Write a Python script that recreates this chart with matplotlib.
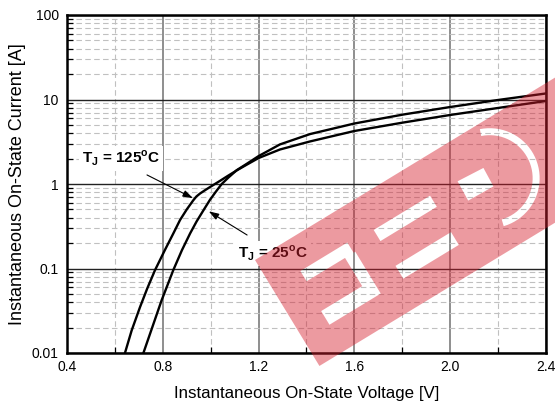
import numpy as np
import matplotlib
matplotlib.use("Agg")
import matplotlib.pyplot as plt
from matplotlib.path import Path
from matplotlib.patches import PathPatch
from matplotlib.transforms import IdentityTransform
from matplotlib.ticker import FixedLocator, FixedFormatter, NullFormatter

plt.rcParams['font.family'] = ['Liberation Sans', 'DejaVu Sans']
plt.rcParams['mathtext.fontset'] = 'custom'
plt.rcParams['mathtext.rm'] = 'Liberation Sans:bold'
plt.rcParams['mathtext.bf'] = 'Liberation Sans:bold'

# ---- data ----
v_125 = [0.642, 0.67, 0.705, 0.735, 0.767, 0.809, 0.844, 0.872, 0.90, 0.927,
         0.94, 0.955, 0.975, 0.997, 1.02, 1.039, 1.07, 1.109, 1.15, 1.2,
         1.289, 1.415, 1.6, 1.804, 2.0, 2.2, 2.4]
i_125 = [0.01, 0.0185, 0.035, 0.058, 0.095, 0.166, 0.26, 0.375, 0.5, 0.64,
         0.71, 0.77, 0.84, 0.92, 1.01, 1.09, 1.24, 1.45, 1.69, 2.03,
         2.56, 3.19, 4.24, 5.34, 6.56, 7.94, 9.6]

v_25 = [0.719, 0.757, 0.795, 0.844, 0.88, 0.914, 0.941, 0.97, 0.997, 1.02,
        1.046, 1.075, 1.109, 1.15, 1.2, 1.289, 1.415, 1.6, 1.804, 2.0,
        2.2, 2.4]
i_25 = [0.01, 0.0205, 0.042, 0.096, 0.165, 0.26, 0.36, 0.49, 0.65, 0.8,
        1.0, 1.2, 1.46, 1.73, 2.14, 2.94, 3.9, 5.2, 6.64, 8.15,
        9.87, 11.79]

x_ticks = [0.4, 0.8, 1.2, 1.6, 2.0, 2.4]
x_tick_labels = ['0.4', '0.8', '1.2', '1.6', '2.0', '2.4']
x_minor = [0.6, 1.0, 1.4, 1.8, 2.2]
y_ticks = [0.01, 0.1, 1, 10, 100]
y_tick_labels = ['0.01', '0.1', '1', '10', '100']
y_minor = [m * d for d in [0.01, 0.1, 1, 10] for m in range(2, 10)]

label_125 = r'T$_{\mathregular{J}}$ = 125$^{\mathregular{o}}$C'
label_25 = r'T$_{\mathregular{J}}$ = 25$^{\mathregular{o}}$C'

W, H = 555, 408
fig = plt.figure(figsize=(W / 100, H / 100), dpi=100)
ax = fig.add_axes([67 / W, 1 - 353 / H, (546 - 67) / W, (353 - 15) / H])
ax.set_yscale('log')
ax.set_xlim(0.4, 2.4)
ax.set_ylim(0.01, 100)

ax.xaxis.set_major_locator(FixedLocator(x_ticks))
ax.xaxis.set_major_formatter(FixedFormatter(x_tick_labels))
ax.xaxis.set_minor_locator(FixedLocator(x_minor))
ax.xaxis.set_minor_formatter(NullFormatter())
ax.yaxis.set_major_locator(FixedLocator(y_ticks))
ax.yaxis.set_major_formatter(FixedFormatter(y_tick_labels))
ax.yaxis.set_minor_locator(FixedLocator(y_minor))
ax.yaxis.set_minor_formatter(NullFormatter())

ax.grid(which='major', axis='x', color='#707070', lw=1.1, ls='-')
ax.grid(which='major', axis='y', color='#222222', lw=1.0, ls='-')
ax.grid(which='minor', color='#c0c0c0', lw=0.8, ls=(0, (5, 3)))
ax.set_axisbelow(True)

ax.tick_params(which='major', direction='in', length=0, labelsize=10, pad=5)
ax.tick_params(axis='y', which='major', pad=6)
ax.tick_params(which='minor', direction='in', length=4, width=0.9, color='black')
for s in ax.spines.values():
    s.set_linewidth(1.8)

ax.plot(v_125, i_125, color='black', lw=1.7, zorder=3)
ax.plot(v_25, i_25, color='black', lw=1.7, zorder=3)

ax.set_xlabel('Instantaneous On-State Voltage [V]', fontsize=12.2, labelpad=9)
ax.set_ylabel('Instantaneous On-State Current [A]', fontsize=13, labelpad=4)

ax.text(0.461, 1.76, label_125, fontsize=11, fontweight='bold', ha='left',
        va='baseline', zorder=4,
        bbox=dict(fc='white', ec='none', pad=2))
ax.annotate('', xy=(0.926, 0.68), xytext=(0.734, 1.28),
            arrowprops=dict(arrowstyle='-|>,head_length=0.6,head_width=0.2',
                            color='black', lw=0.8, shrinkA=0, shrinkB=0), zorder=4)
ax.text(1.115, 0.132, label_25, fontsize=11, fontweight='bold', ha='left',
        va='baseline', zorder=4,
        bbox=dict(fc='white', ec='none', pad=2))
ax.annotate('', xy=(0.992, 0.475), xytext=(1.152, 0.249),
            arrowprops=dict(arrowstyle='-|>,head_length=0.6,head_width=0.2',
                            color='black', lw=0.8, shrinkA=0, shrinkB=0), zorder=4)

# ---- watermark (decorative logo band) ----
th = np.deg2rad(31.3)
P0 = np.array([255.0, 260.0])
eu = np.array([np.cos(th), -np.sin(th)])
ev = np.array([np.sin(th), np.cos(th)])


def to_disp(pts):
    out = []
    for u, v in pts:
        p = P0 + u * eu + v * ev
        out.append((p[0], H - p[1]))
    return np.array(out)


def area(p):
    x, y = p[:, 0], p[:, 1]
    return 0.5 * np.sum(x * np.roll(y, -1) - np.roll(x, -1) * y)


def orient(p, positive):
    if (area(p) > 0) != positive:
        p = p[::-1]
    return p


polys = []
outer = to_disp([(0, 0), (420, 0), (420, 124), (0, 124)])
polys.append(orient(outer, True))
holes_local = [
    [(33, 33), (88, 33), (88, 45), (33, 45)],
    [(78, 45), (90, 45), (90, 78), (78, 78)],
    [(30, 78), (90, 78), (90, 94), (30, 94)],
    [(117, 36), (183, 36), (183, 49), (117, 49)],
    [(117, 78), (182, 78), (182, 93), (117, 93)],
    [(214, 38), (243, 40), (242, 61), (213, 60)],
]
for h in holes_local:
    polys.append(orient(to_disp(h), False))
ang = np.deg2rad(np.linspace(-70, 105, 40))
cu, cv = 243, 52
arc_o = [(cu + 50 * np.cos(a), cv + 50 * np.sin(a)) for a in ang]
arc_i = [(cu + 43 * np.cos(a), cv + 43 * np.sin(a)) for a in ang[::-1]]
polys.append(orient(to_disp(arc_o + arc_i), False))

verts, codes = [], []
for p in polys:
    verts.extend(list(p) + [p[0]])
    codes.extend([Path.MOVETO] + [Path.LINETO] * (len(p) - 1) + [Path.CLOSEPOLY])
wm = PathPatch(Path(verts, codes), transform=IdentityTransform(),
               facecolor=(0.84, 0.12, 0.18), alpha=0.45, edgecolor='none', zorder=10)
fig.add_artist(wm)

fig.savefig('out.png', dpi=100)
